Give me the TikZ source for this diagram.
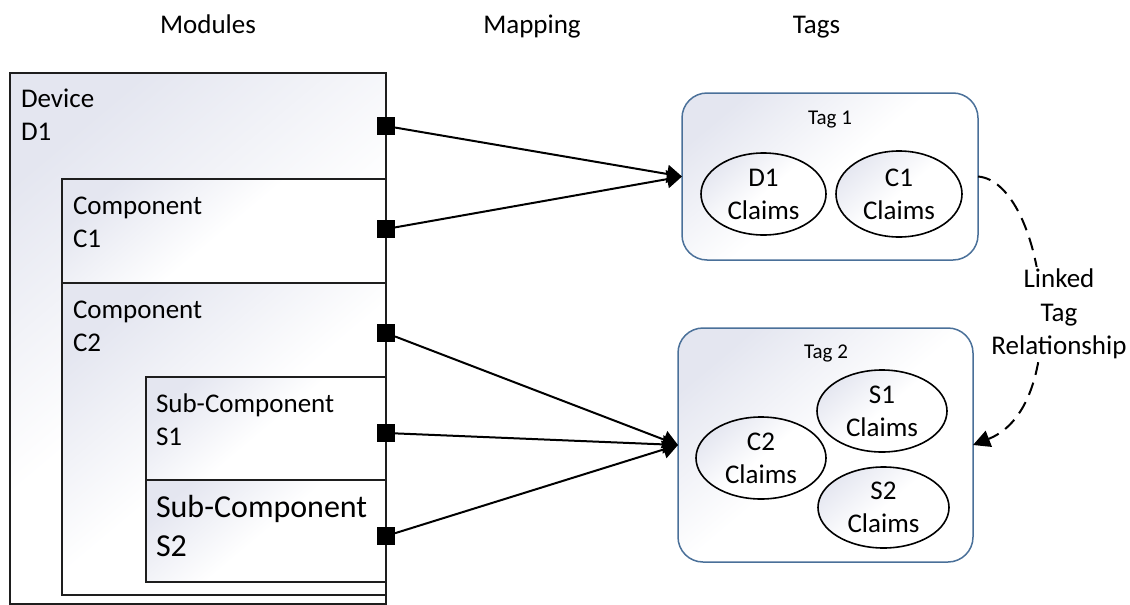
\documentclass[tikz,border=0pt]{standalone}
\usepackage{fontspec}
\setmainfont{Carlito}
\usetikzlibrary{shapes.geometric,arrows.meta}
\definecolor{shadeTop}{HTML}{E4E6F0}
\definecolor{tagBorder}{HTML}{4A7099}
\definecolor{boxLine}{HTML}{1E1E1E}
% soft fill: white over the lower half, fading to a pale blue-grey at the top
\pgfdeclareverticalshading{softfade}{100bp}{%
  color(0bp)=(white); color(50bp)=(white); color(76bp)=(shadeTop); color(100bp)=(shadeTop)}
\tikzset{
  every node/.style={inner sep=0pt, outer sep=0pt},
  txt/.style={font=\fontsize{27}{33}\selectfont},
  bigtxt/.style={font=\fontsize{32}{39}\selectfont},
  smalltxt/.style={font=\fontsize{21}{26}\selectfont},
  softfill/.style={shading=softfade, shading angle=40},
  modbox/.style={rectangle, draw=boxLine, line width=1.5pt, anchor=north west, softfill},
  port/.style={rectangle, fill=black, minimum size=18pt},
  tagbox/.style={rectangle, rounded corners=25pt, draw=tagBorder, line width=1.5pt,
    anchor=north west, softfill},
  claim/.style={ellipse, draw=black, line width=1.6pt, align=center, txt, softfill},
  conn/.style={line width=2pt, -{Triangle[length=15pt,width=18pt]}},
  linkline/.style={line width=2pt, dash pattern=on 13pt off 8pt,
    -{Triangle[length=17pt,width=17pt]}},
}
\begin{document}
\begin{tikzpicture}[x=1pt, y=-1pt]
\useasboundingbox (0,0) rectangle (1130,605);

% column headings
\node[txt, anchor=base] (hMod) at (208,33) {Modules};
\node[txt, anchor=base] (hMap) at (532,33) {Mapping};
\node[txt, anchor=base] (hTag) at (816.5,33) {Tags};

% nested module boxes
\node[modbox, minimum width=376pt, minimum height=531pt] (dev) at (10,73) {};
\node[modbox, minimum width=324pt, minimum height=104pt] (comp1) at (62,179) {};
\node[modbox, minimum width=324pt, minimum height=312pt] (comp2) at (62,283) {};
\node[modbox, minimum width=240pt, minimum height=103pt] (sub1) at (146,377) {};
\node[modbox, minimum width=240pt, minimum height=102pt] (sub2) at (146,480) {};

% box captions (base anchor sits on the second line)
\node[txt, anchor=base west, align=left] (lDev) at (21,140) {Device\\D1};
\node[txt, anchor=base west, align=left] (lC1) at (73,247) {Component\\C1};
\node[txt, anchor=base west, align=left] (lC2) at (73,351) {Component\\C2};
\node[txt, anchor=base west, align=left] (lS1) at (156,445) {Sub-Component\\S1};
\node[bigtxt, anchor=base west, align=left] (lS2) at (156,556) {Sub-Component\\S2};

% mapping ports
\node[port] (pD1) at (386,126) {};
\node[port] (pC1) at (386,229) {};
\node[port] (pC2) at (386,333) {};
\node[port] (pS1) at (386,433) {};
\node[port] (pS2) at (386,536) {};

% tags
\node[tagbox, minimum width=296pt, minimum height=167pt] (tag1) at (682,93) {};
\node[tagbox, minimum width=295pt, minimum height=234pt] (tag2) at (678,328) {};
\node[smalltxt, anchor=base] (lTag1) at (830,124) {Tag 1};
\node[smalltxt, anchor=base] (lTag2) at (826,358) {Tag 2};

\node[claim, minimum width=125pt, minimum height=82pt] (cD1) at (763.5,194) {D1\\Claims};
\node[claim, minimum width=126pt, minimum height=86pt] (cC1) at (899,194) {C1\\Claims};
\node[claim, minimum width=130pt, minimum height=82pt] (cC2) at (761,458) {C2\\Claims};
\node[claim, minimum width=130pt, minimum height=82pt] (cS1) at (882,411) {S1\\Claims};
\node[claim, minimum width=131pt, minimum height=81pt] (cS2) at (883.5,507.5) {S2\\Claims};

% module-to-tag mapping
\draw[conn] (pD1) -- (tag1.west);
\draw[conn] (pC1) -- (tag1.west);
\draw[conn] (pC2) -- (tag2.west);
\draw[conn] (pS1) -- (tag2.west);
\draw[conn] (pS2) -- (tag2.west);

% linked tag relationship
\draw[linkline] (tag1.east) .. controls (1045,182) and (1075,405) .. (tag2.east);
\node[txt, align=center, fill=white, inner sep=2pt, font=\fontsize{27}{33.5}\selectfont]
  (link) at (1059,314) {Linked\\Tag\\Relationship};
\end{tikzpicture}
\end{document}
